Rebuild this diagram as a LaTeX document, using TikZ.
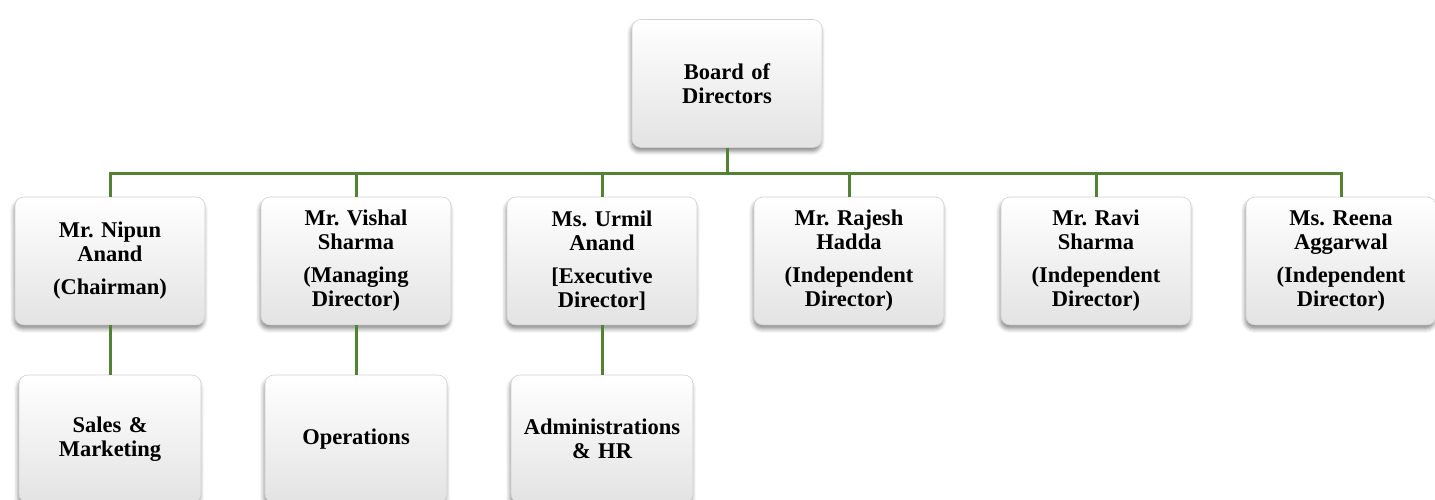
\documentclass[tikz,border=0pt]{standalone}
\usepackage{fontspec}
\setmainfont{Liberation Serif}
\usetikzlibrary{shadows.blur}
\definecolor{conngreen}{RGB}{84,130,53}
\frenchspacing
\tikzset{
  box/.style={rectangle, rounded corners=9pt, minimum width=190pt, minimum height=128pt,
    text width=186pt, align=center, inner sep=0pt,
    top color=white, bottom color=black!11, draw=black!18, line width=0.6pt,
    font=\bfseries\fontsize{22.5}{24}\selectfont,
    blur shadow={shadow xshift=-1pt, shadow yshift=-4pt, shadow blur radius=4pt, shadow opacity=45}},
  lowbox/.style={box, minimum width=182pt, text width=178pt},
  conn/.style={draw=conngreen, line width=3pt}
}
\begin{document}
\begin{tikzpicture}[x=1pt,y=1pt]
\useasboundingbox (0,0) rectangle (1435,500);
\node[box] (board) at (727,416.5) {Board of\\Directors};
\node[box] (n1) at (110,239) {Mr. Nipun\\Anand\\[9pt](Chairman)};
\node[box] (n2) at (356,239) {Mr. Vishal\\Sharma\\[9pt](Managing\\Director)};
\node[box] (n3) at (602,239) {Ms. Urmil\\Anand\\[9pt]{[}Executive\\Director]};
\node[box] (n4) at (849,239) {Mr. Rajesh\\Hadda\\[9pt](Independent\\Director)};
\node[box] (n5) at (1096,239) {Mr. Ravi\\Sharma\\[9pt](Independent\\Director)};
\node[box] (n6) at (1341,239) {Ms. Reena\\Aggarwal\\[9pt](Independent\\Director)};
\node[lowbox] (s1) at (110,61) {Sales \&\\Marketing};
\node[lowbox] (s2) at (356,61) {Operations};
\node[lowbox] (s3) at (602,61) {Administrations\\\& HR};
\foreach \n in {n1,n2,n3,n4,n5,n6}{
  \draw[conn] (board.south) -- ++(0,-26) -| (\n.north);
}
\draw[conn] (n1.south) -- (s1.north);
\draw[conn] (n2.south) -- (s2.north);
\draw[conn] (n3.south) -- (s3.north);
\end{tikzpicture}
\end{document}
